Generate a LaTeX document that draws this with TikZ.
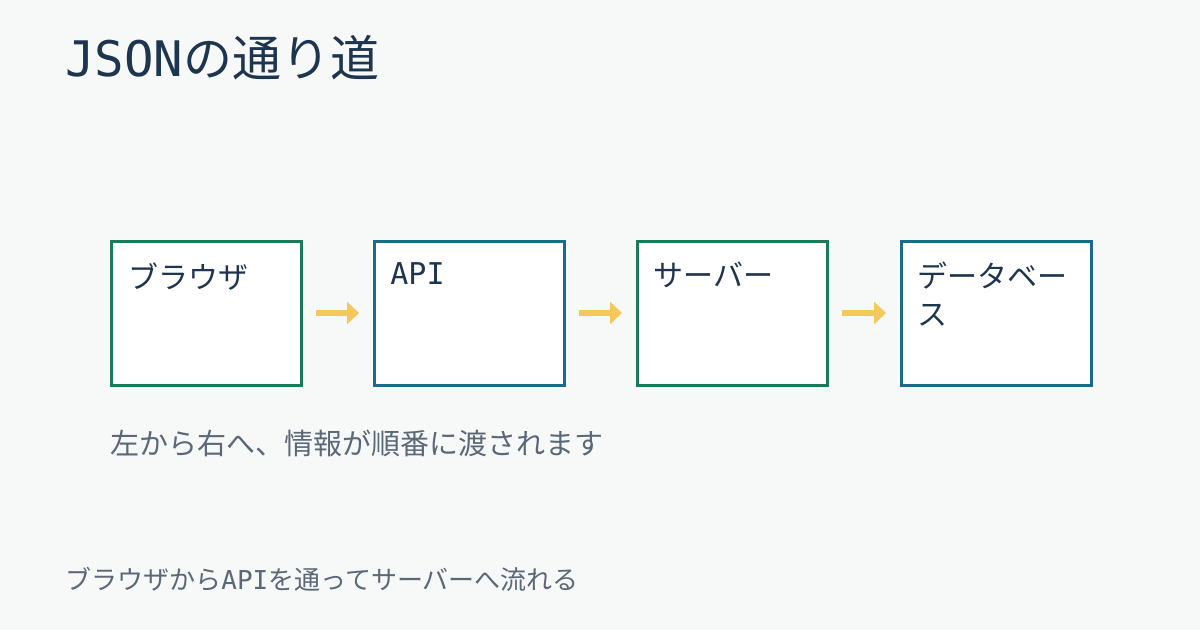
\documentclass[tikz,border=0pt]{standalone}
\usepackage{fontspec}
\setmainfont{Noto Sans CJK JP}
\newfontfamily\jmono{DejaVu Sans Mono}
\usetikzlibrary{arrows.meta}
\definecolor{bg}{HTML}{F7F9F9}
\definecolor{ink}{HTML}{1E3550}
\definecolor{grn}{HTML}{1B7A5A}
\definecolor{blu}{HTML}{1A6A8A}
\definecolor{arr}{HTML}{F5C85A}
\definecolor{gry}{HTML}{5A6878}
\begin{document}
\begin{tikzpicture}[x=0.5pt,y=-0.5pt,
  box/.style={draw=#1,line width=1.6pt,fill=white,minimum width=95pt,minimum height=72pt,inner sep=0pt,anchor=north west},
  lbl/.style={anchor=north west,text=ink,font=\fontsize{15}{19}\selectfont,align=left,inner sep=0pt},
  flow/.style={draw=arr,line width=3.2pt,-{Triangle[length=6pt,width=11pt]}}]
\fill[bg] (0,0) rectangle (1200,630);
\useasboundingbox (0,0) rectangle (1200,630);
\node[anchor=west,text=ink,font=\fontsize{24.5}{28}\selectfont,inner sep=0pt] (t) at (65,58) {{\jmono JSON}の通り道};
\node[box=grn] (b1) at (110,240) {};
\node[box=blu] (b2) at (373,240) {};
\node[box=grn] (b3) at (636,240) {};
\node[box=blu] (b4) at (900,240) {};
\node[lbl] (l1) at (128,262) {ブラウザ};
\node[lbl] (l2) at (390,262) {{\jmono API}};
\node[lbl] (l3) at (653,262) {サーバー};
\node[lbl] (l4) at (917,262) {データベー\\ス};
\coordinate (s1) at (316,313); \coordinate (s2) at (579,313); \coordinate (s3) at (842,313);
\coordinate (f1) at (359,313); \coordinate (f2) at (622,313); \coordinate (f3) at (886,313);
\draw[flow] (s1) -- (f1);
\draw[flow] (s2) -- (f2);
\draw[flow] (s3) -- (f3);
\node[anchor=west,text=gry,font=\fontsize{14.5}{17}\selectfont,inner sep=0pt] (c) at (110,443) {左から右へ、情報が順番に渡されます};
\node[anchor=west,text=gry,font=\fontsize{13}{15}\selectfont,inner sep=0pt] (f) at (65,579) {ブラウザから{\jmono API}を通ってサーバーへ流れる};
\end{tikzpicture}
\end{document}
